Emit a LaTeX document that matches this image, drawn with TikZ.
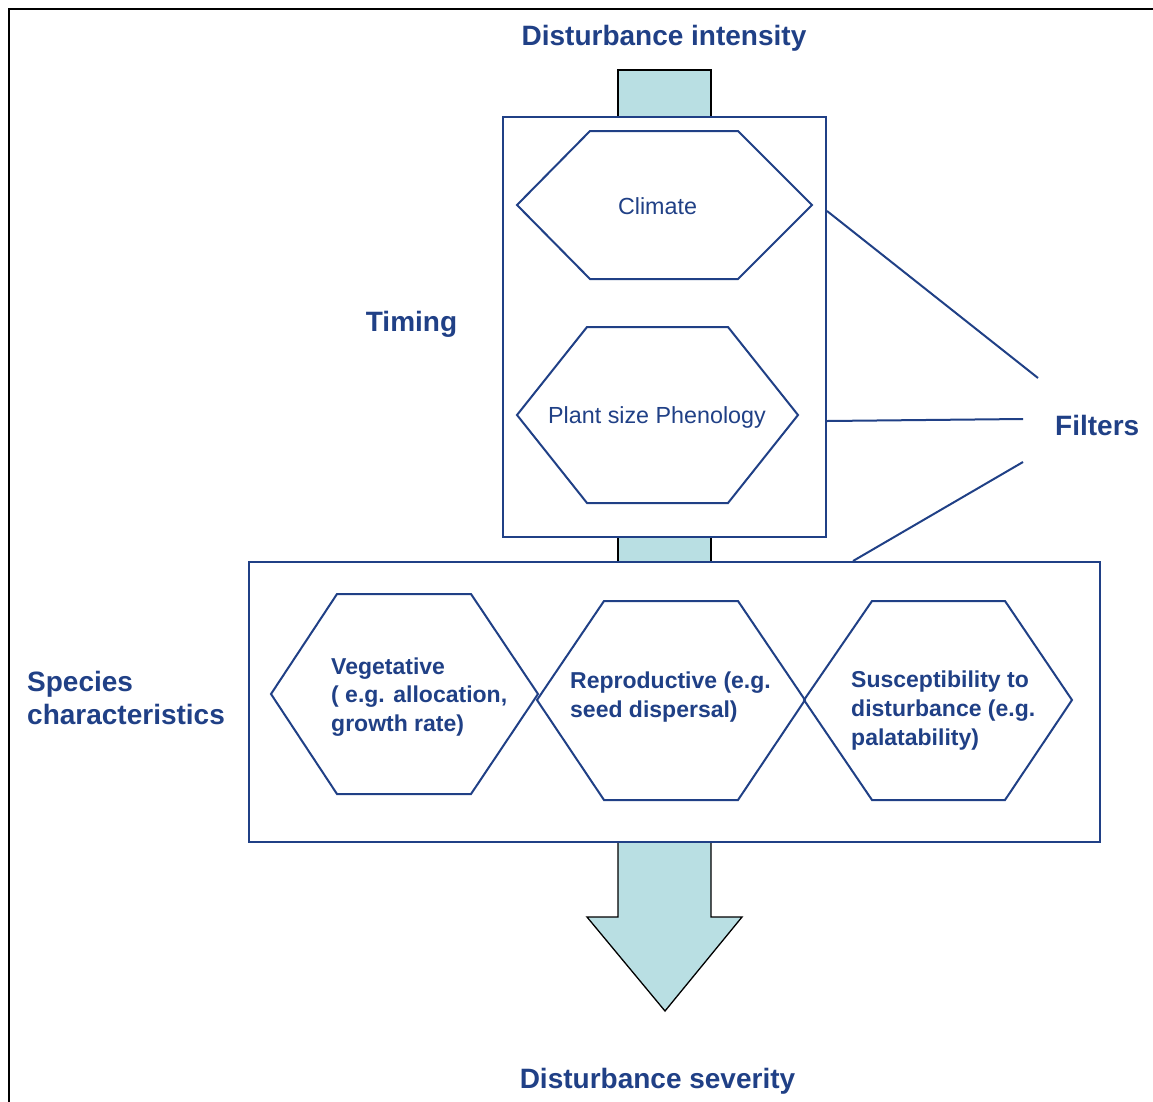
\documentclass[tikz,border=0pt]{standalone}
\usepackage{fontspec}
\setmainfont{Liberation Sans}
\definecolor{dblue}{RGB}{32,64,134}
\definecolor{teal}{RGB}{185,223,227}
\tikzset{
  boxline/.style={draw=dblue, line width=2pt},
  hexline/.style={draw=dblue, line width=2pt, line join=miter},
  stem/.style={fill=teal, draw=black, line width=1.3pt},
  biglabel/.style={text=dblue, font=\fontsize{28}{32.5}\selectfont\bfseries, inner sep=0pt},
  hextext/.style={text=dblue, font=\fontsize{23.3}{28.7}\selectfont, inner sep=0pt},
  hexbold/.style={text=dblue, font=\fontsize{23}{28.7}\selectfont\bfseries, inner sep=0pt, align=left},
}
\begin{document}
\begin{tikzpicture}[x=1pt,y=-1pt]
\useasboundingbox (0,0) rectangle (1153,1101);
% outer frame (partly cropped)
\draw[black, line width=2.2pt] (9,1105) -- (9,9) -- (1157,9);

% stems of the flow arrow
\draw[stem] (618,117) -- (618,70) -- (711,70) -- (711,117);
\fill[teal] (618,537) rectangle (711,562);
\draw[black, line width=1.3pt] (618,537) -- (618,562) (711,537) -- (711,562);
\draw[stem, line join=miter] (618,842) -- (618,917) -- (587,917) -- (665,1011) -- (742,917) -- (711,917) -- (711,842);

% boxes
\node[boxline, fill=white, minimum width=323pt, minimum height=420pt, inner sep=0pt] (timing) at (664.5,327) {};
\node[boxline, fill=white, minimum width=851pt, minimum height=280pt, inner sep=0pt] (species) at (674.5,702) {};

% hexagons
\draw[hexline] (517,205) -- (590,131) -- (738,131) -- (812,205) -- (738,279) -- (590,279) -- cycle;
\draw[hexline] (517,415) -- (587,327) -- (728,327) -- (798,415) -- (728,503) -- (587,503) -- cycle;
\draw[hexline] (271,694) -- (337,594) -- (471,594) -- (538,694) -- (471,794) -- (337,794) -- cycle;
\draw[hexline] (537,700) -- (604,601) -- (738,601) -- (805,700) -- (738,800) -- (604,800) -- cycle;
\draw[hexline] (804,700) -- (872,601) -- (1005,601) -- (1072,700) -- (1005,800) -- (872,800) -- cycle;

% texts
\node[hextext, anchor=base] (climate) at (657.5,214) {Climate};
\node[hextext, anchor=base] (plant) at (657,423) {Plant size Phenology};
\node[hexbold, anchor=base west] (veg) at (331,731.5) {Vegetative\\( e.g. allocation,\\growth rate)};
\node[hexbold, anchor=base west] (rep) at (570,717) {Reproductive (e.g.\\seed dispersal)};
\node[hexbold, anchor=base west] (sus) at (851,745) {Susceptibility to\\disturbance (e.g.\\palatability)};

\node[biglabel, anchor=base] (din) at (664,45) {Disturbance intensity};
\node[biglabel, anchor=base] (dsev) at (657.5,1088) {Disturbance severity};
\node[biglabel, anchor=base] (tim) at (411.5,331) {Timing};
\node[biglabel, anchor=base west] (filters) at (1055,435) {Filters};
\node[biglabel, anchor=base west, align=left] (spec) at (27,724) {Species\\characteristics};

% filter lines
\coordinate (f1) at (1038,378);
\coordinate (f2) at (1023,419);
\coordinate (f3) at (1023,462);
\draw[boxline] (timing.east |- 0,211) -- (f1);
\draw[boxline] (timing.east |- 0,421) -- (f2);
\draw[boxline] (species.north -| 853,0) -- (f3);
\end{tikzpicture}
\end{document}
